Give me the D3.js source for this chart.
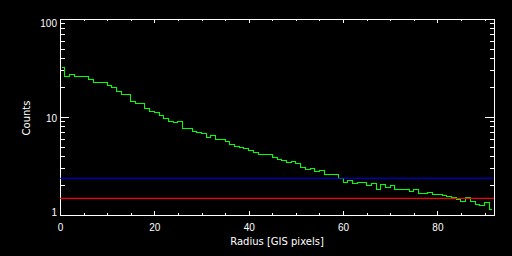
<!DOCTYPE html>
<html>
<head>
<meta charset="utf-8">
<script src="https://cdn.jsdelivr.net/npm/d3@7"></script>
<style>
  html, body { margin: 0; padding: 0; background: #000; }
  svg { display: block; font-family: 'DejaVu Sans', sans-serif; }
</style>
</head>
<body>
<div id="chart"></div>
<script>
// radial profile counts, one value per 1-pixel radius bin (bin 0 = 0..1)
const counts = [
  32.1, 26.0, 27.0, 25.6, 26.0, 26.0, 24.4, 22.6, 22.6, 22.6,
  21.2, 19.8, 18.4, 17.1, 17.1, 14.5, 13.6, 13.6, 12.3, 11.5,
  11.2, 10.3, 9.6, 9.1, 8.7, 8.9, 7.6, 7.6, 7.1, 6.9,
  6.75, 6.25, 6.4, 5.92, 5.92, 5.65, 5.26, 5.02, 4.9, 4.79,
  4.57, 4.30, 4.16, 4.16, 4.16, 3.82, 3.72, 3.62, 3.45, 3.53,
  3.37, 3.07, 2.93, 3.0, 2.81, 2.85, 2.60, 2.60, 2.60, 2.36,
  2.16, 2.26, 2.12, 2.16, 2.16, 2.01, 2.11, 1.83, 2.06, 1.93,
  2.01, 1.83, 1.83, 1.83, 1.74, 1.83, 1.66, 1.66, 1.70, 1.63,
  1.63, 1.59, 1.55, 1.50, 1.45, 1.38, 1.51, 1.38, 1.29, 1.24,
  1.35, 1.14
];
const background = 2.37;   // blue level
const threshold = 1.48;    // red level

const xMajor = [0, 20, 40, 60, 80];
const xMinor = [5, 10, 15, 25, 30, 35, 45, 50, 55, 65, 70, 75, 85, 90];
const yMajor = [1, 10, 100];
const yMinor = [2, 3, 4, 5, 6, 7, 8, 9, 20, 30, 40, 50, 60, 70, 80, 90];

const W = 512, H = 256;
const margin = { top: 19, right: 18, bottom: 41, left: 60 };
const w = W - margin.left - margin.right;
const h = H - margin.top - margin.bottom;

const svg = d3.select('#chart').append('svg').attr('width', W).attr('height', H);
svg.append('rect').attr('width', W).attr('height', H).attr('fill', '#000');
const g = svg.append('g').attr('transform', `translate(${margin.left},${margin.top})`);

const x = d3.scaleLinear().domain([0, 92]).range([0, w]);
const y = d3.scaleLog().domain([1, 100]).range([h, 0]);

function styleAxis(sel) {
  sel.selectAll('path, line').attr('stroke', '#fff').attr('shape-rendering', 'crispEdges');
  sel.selectAll('text').attr('fill', '#fff').style('font-size', '10px');
}

// bottom / top
g.append('g').attr('transform', `translate(0,${h})`)
  .call(d3.axisBottom(x).tickValues(xMajor).tickSizeInner(-4).tickSizeOuter(0).tickPadding(9).tickFormat(d3.format('d')))
  .call(styleAxis);
g.append('g').attr('transform', `translate(0,${h})`)
  .call(d3.axisBottom(x).tickValues(xMinor).tickSizeInner(-2).tickSizeOuter(0).tickFormat(''))
  .call(styleAxis);
g.append('g')
  .call(d3.axisTop(x).tickValues(xMajor).tickSizeInner(-4).tickSizeOuter(0).tickFormat(''))
  .call(styleAxis);
g.append('g')
  .call(d3.axisTop(x).tickValues(xMinor).tickSizeInner(-2).tickSizeOuter(0).tickFormat(''))
  .call(styleAxis);

// left / right
const yLeft = g.append('g')
  .call(d3.axisLeft(y).tickValues(yMajor).tickSizeInner(-9).tickSizeOuter(0).tickPadding(3).tickFormat(d3.format('d')))
  .call(styleAxis);
yLeft.selectAll('.tick text').attr('dy', d => d === 100 ? '0.75em' : d === 1 ? '0.05em' : '0.45em');
g.append('g')
  .call(d3.axisLeft(y).tickValues(yMinor).tickSizeInner(-4.5).tickSizeOuter(0).tickFormat(''))
  .call(styleAxis);
g.append('g').attr('transform', `translate(${w},0)`)
  .call(d3.axisRight(y).tickValues(yMajor).tickSizeInner(-9).tickSizeOuter(0).tickFormat(''))
  .call(styleAxis);
g.append('g').attr('transform', `translate(${w},0)`)
  .call(d3.axisRight(y).tickValues(yMinor).tickSizeInner(-4.5).tickSizeOuter(0).tickFormat(''))
  .call(styleAxis);

// histogram (IDL psym=10 style: steps between bin centres)
const line = d3.line()
  .x((d, i) => x(i + 0.5))
  .y(d => y(d))
  .curve(d3.curveStep);
g.append('path').datum(counts)
  .attr('fill', 'none').attr('stroke', '#00ff00').attr('stroke-width', 1)
  .attr('shape-rendering', 'crispEdges').attr('d', line);

// reference levels
g.append('line').attr('x1', 0).attr('x2', w).attr('y1', y(background)).attr('y2', y(background))
  .attr('stroke', '#0000ff').attr('stroke-width', 1.2);
g.append('line').attr('x1', 0).attr('x2', w).attr('y1', y(threshold)).attr('y2', y(threshold))
  .attr('stroke', '#ff0000').attr('stroke-width', 1.2);

// axis titles
svg.append('text').attr('x', margin.left + w / 2).attr('y', 245).attr('text-anchor', 'middle')
  .attr('fill', '#fff').style('font-size', '10px').text('Radius [GIS pixels]');
svg.append('text').attr('transform', `translate(30,${margin.top + h / 2 + 1}) rotate(-90)`)
  .attr('text-anchor', 'middle').attr('fill', '#fff').style('font-size', '10px').text('Counts');
</script>
</body>
</html>
